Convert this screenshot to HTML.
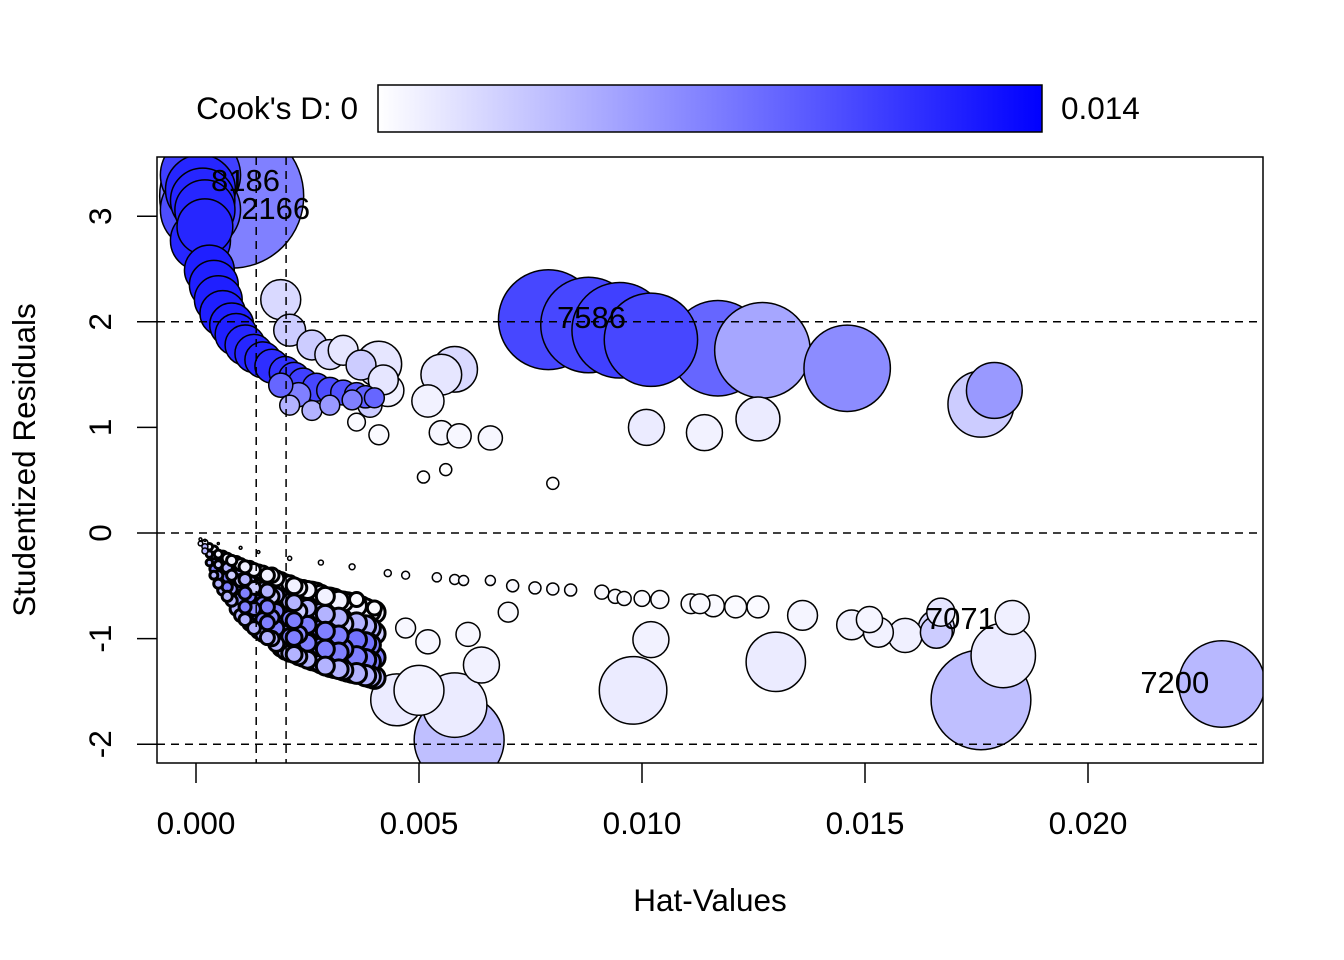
<!DOCTYPE html>
<html><head><meta charset="utf-8">
<style>
html,body{margin:0;padding:0;background:#fff;}
svg{display:block;font-family:"Liberation Sans",Arial,sans-serif;}
</style></head>
<body>
<svg id="chart" width="1344" height="960" viewBox="0 0 1344 960">
<defs>
<linearGradient id="cg" x1="0" x2="1" y1="0" y2="0"><stop offset="0" stop-color="#ffffff"/><stop offset="1" stop-color="#0000ff"/></linearGradient>
<clipPath id="pc"><rect x="157" y="157" width="1106" height="606"/></clipPath>
</defs>
<g>
<text x="358" y="119" font-size="31.5" text-anchor="end">Cook's D: 0</text>
<rect x="378" y="85" width="664" height="47" fill="url(#cg)" stroke="#000" stroke-width="1.5"/>
<text x="1061" y="119" font-size="31.5">0.014</text>
</g>
<g id="marks" clip-path="url(#pc)"></g>
<g id="refs" clip-path="url(#pc)"></g>
<g id="labels"></g>
<rect x="157" y="157" width="1106" height="606" fill="none" stroke="#000" stroke-width="1.5"/>
<g id="axes"></g>
<text x="710" y="911" font-size="31.5" text-anchor="middle">Hat-Values</text>
<text x="0" y="0" font-size="31.5" text-anchor="middle" transform="translate(35,460) rotate(-90)">Studentized Residuals</text>
</svg>
<script>
// [hat, rstudent, cookFraction(of 0.014), sizeFraction]
const upperObs = [
[0.0008,3.19,0.5,1.0],[0.0001,3.39,0.75,0.31],[0.0001,3.06,0.7,0.31],
[0.0001,3.25,0.85,0.236],[0.0002,3.06,0.85,0.174],[0.0001,2.77,0.85,0.174],[0.0003,2.49,0.88,0.12],
[0.0005,2.21,0.88,0.11],[0.0008,1.97,0.88,0.093],[0.0011,1.78,0.85,0.077],[0.0015,1.64,0.85,0.0625],
[0.0020,1.52,0.8,0.049],[0.0024,1.42,0.75,0.043],[0.0030,1.35,0.7,0.033],[0.0036,1.31,0.65,0.028],[0.0040,1.28,0.6,0.019],
[0.00015,3.15,0.85,0.2],[0.0002,2.9,0.85,0.15],[0.0004,2.35,0.88,0.115],[0.0006,2.08,0.88,0.1],[0.0009,1.88,0.88,0.085],
[0.0013,1.70,0.85,0.07],[0.0017,1.58,0.82,0.055],[0.0022,1.47,0.78,0.046],[0.0027,1.38,0.72,0.038],[0.0033,1.33,0.68,0.03],[0.0038,1.29,0.62,0.024],
[0.0019,2.21,0.15,0.077],[0.0021,1.92,0.2,0.049],[0.0026,1.78,0.2,0.043],[0.0030,1.69,0.15,0.043],[0.0033,1.73,0.1,0.043],
[0.0037,1.59,0.2,0.043],[0.0042,1.45,0.1,0.043],
[0.0021,1.21,0.3,0.019],[0.0026,1.16,0.3,0.019],[0.0030,1.21,0.4,0.019],[0.0035,1.26,0.5,0.019],[0.0039,1.21,0.2,0.028],
[0.0023,1.31,0.5,0.028],[0.0019,1.40,0.6,0.028],
[0.0041,1.6,0.1,0.1],[0.0043,1.35,0.05,0.05],[0.0052,1.25,0.05,0.05],[0.0055,0.95,0.03,0.028],[0.0059,0.92,0.03,0.028],
[0.0066,0.90,0.03,0.028],[0.0041,0.93,0.02,0.019],[0.0058,1.55,0.15,0.1],[0.0055,1.5,0.1,0.08],[0.0036,1.05,0.02,0.015],
[0.0051,0.53,0.0,0.007],[0.0056,0.60,0.0,0.007],[0.0080,0.47,0.0,0.007]
];
const rightObs = [
[0.0079,2.02,0.72,0.48],[0.0088,1.97,0.72,0.44],[0.0095,1.92,0.75,0.44],[0.0102,1.83,0.72,0.42],
[0.0117,1.75,0.6,0.44],[0.0127,1.73,0.35,0.44],[0.0146,1.56,0.45,0.36],[0.0179,1.35,0.4,0.15],
[0.0176,1.22,0.2,0.21],[0.0101,1.0,0.08,0.0625],[0.0114,0.95,0.05,0.0625],[0.0126,1.08,0.08,0.093]
];
const ringObs = [
[0.0002,-0.07,0.02,0.0002],[0.0005,-0.10,0.02,0.0002],[0.0010,-0.14,0.02,0.0004],[0.0014,-0.18,0.02,0.0004],
[0.0021,-0.24,0.02,0.0008],[0.0028,-0.28,0.02,0.0012],[0.0035,-0.32,0.02,0.0017],[0.0043,-0.38,0.02,0.0024],
[0.0047,-0.40,0.02,0.003],[0.0054,-0.42,0.02,0.004],[0.0058,-0.44,0.02,0.0048],[0.0060,-0.45,0.02,0.0048],
[0.0066,-0.45,0.02,0.0048],[0.0071,-0.50,0.02,0.007],[0.0076,-0.52,0.02,0.007],[0.0080,-0.53,0.02,0.007],
[0.0084,-0.54,0.02,0.007],[0.0091,-0.56,0.02,0.0095],[0.0094,-0.60,0.02,0.0095],[0.0096,-0.62,0.02,0.0095],
[0.0100,-0.62,0.02,0.012],[0.0104,-0.63,0.02,0.0156],[0.0111,-0.67,0.02,0.019],[0.0113,-0.67,0.02,0.019],
[0.0116,-0.69,0.02,0.023],[0.0121,-0.70,0.02,0.023],[0.0126,-0.70,0.02,0.023]
];
const lowerObs = [
[0.0136,-0.78,0.04,0.043],[0.0147,-0.87,0.05,0.043],[0.0151,-0.82,0.04,0.033],[0.0153,-0.94,0.05,0.043],
[0.0159,-0.97,0.06,0.056],[0.0166,-0.90,0.15,0.0625],[0.0167,-0.75,0.1,0.038],[0.0166,-0.94,0.2,0.049],
[0.0183,-0.80,0.06,0.056],[0.0181,-1.16,0.08,0.2],[0.0176,-1.58,0.25,0.48],[0.0230,-1.43,0.28,0.36],
[0.0130,-1.22,0.08,0.17],[0.0098,-1.49,0.08,0.22],[0.0102,-1.01,0.05,0.0625],[0.0070,-0.75,0.02,0.019],
[0.0059,-1.96,0.25,0.39],[0.0058,-1.63,0.08,0.2],[0.0045,-1.58,0.08,0.13],[0.0050,-1.49,0.05,0.12],
[0.0064,-1.25,0.05,0.0625],[0.0061,-0.96,0.03,0.028],[0.0052,-1.03,0.03,0.028],[0.0047,-0.90,0.03,0.019],
[0.0040,-0.71,0.02,0.0095],[0.0036,-0.63,0.02,0.0095]
];
const bandObs = [
[0.0001,-0.06,0.02,0.0004],[0.0001,-0.10,0.1,0.001],
[0.0002,-0.09,0.05,0.0017],[0.0002,-0.13,0.3,0.0017],[0.0002,-0.17,0.3,0.0017],
[0.0003,-0.13,0.05,0.002],[0.0003,-0.20,0.2,0.002],[0.0003,-0.28,0.3,0.002],
[0.0004,-0.16,0.05,0.003],[0.0004,-0.22,0.3,0.003],[0.0004,-0.28,0.5,0.003],[0.0004,-0.34,0.5,0.003],[0.0004,-0.40,0.3,0.003],
[0.0005,-0.20,0.05,0.003],[0.0005,-0.30,0.2,0.003],[0.0005,-0.40,0.4,0.004],[0.0005,-0.48,0.3,0.004],
[0.0006,-0.22,0.05,0.005],[0.0006,-0.30,0.3,0.005],[0.0006,-0.38,0.5,0.005],[0.0006,-0.46,0.5,0.005],[0.0006,-0.54,0.3,0.005],
[0.0007,-0.24,0.05,0.005],[0.0007,-0.33,0.3,0.005],[0.0007,-0.42,0.5,0.005],[0.0007,-0.51,0.5,0.005],[0.0007,-0.60,0.3,0.005],
[0.0008,-0.26,0.05,0.005],[0.0008,-0.40,0.2,0.005],[0.0008,-0.53,0.4,0.006],[0.0008,-0.64,0.3,0.006],
[0.0009,-0.28,0.05,0.007],[0.0009,-0.39,0.3,0.007],[0.0009,-0.50,0.5,0.007],[0.0009,-0.61,0.5,0.007],[0.0009,-0.72,0.3,0.007],
[0.0010,-0.30,0.05,0.007],[0.0010,-0.45,0.2,0.007],[0.0010,-0.62,0.45,0.007],[0.0010,-0.78,0.3,0.007],
[0.0011,-0.32,0.05,0.007],[0.0011,-0.44,0.3,0.007],[0.0011,-0.57,0.5,0.007],[0.0011,-0.70,0.5,0.007],[0.0011,-0.82,0.3,0.007],
[0.0012,-0.33,0.05,0.008],[0.0012,-0.46,0.3,0.008],[0.0012,-0.60,0.5,0.008],[0.0012,-0.73,0.5,0.008],[0.0012,-0.86,0.3,0.008],
[0.0013,-0.35,0.05,0.008],[0.0013,-0.52,0.2,0.008],[0.0013,-0.72,0.45,0.008],[0.0013,-0.90,0.3,0.008],
[0.0014,-0.37,0.05,0.0095],[0.0014,-0.51,0.3,0.0095],[0.0014,-0.65,0.5,0.0095],[0.0014,-0.79,0.5,0.0095],[0.0014,-0.93,0.3,0.0095],
[0.0015,-0.38,0.05,0.0095],[0.0015,-0.53,0.3,0.0095],[0.0015,-0.67,0.5,0.0095],[0.0015,-0.82,0.5,0.0095],[0.0015,-0.96,0.3,0.0095],
[0.0016,-0.40,0.05,0.0095],[0.0016,-0.55,0.3,0.0095],[0.0016,-0.70,0.5,0.0095],[0.0016,-0.85,0.5,0.0095],[0.0016,-0.99,0.3,0.0095],
[0.0017,-0.40,0.05,0.01],[0.0017,-0.60,0.2,0.01],[0.0017,-0.80,0.45,0.01],[0.0017,-1.00,0.3,0.01],
[0.0018,-0.43,0.05,0.011],[0.0018,-0.59,0.3,0.011],[0.0018,-0.74,0.5,0.011],[0.0018,-0.90,0.5,0.011],[0.0018,-1.05,0.3,0.011],
[0.0019,-0.45,0.05,0.012],[0.0019,-0.61,0.3,0.012],[0.0019,-0.77,0.5,0.012],[0.0019,-0.93,0.5,0.012],[0.0019,-1.09,0.3,0.012],
[0.0020,-0.47,0.05,0.012],[0.0020,-0.68,0.2,0.012],[0.0020,-0.90,0.45,0.012],[0.0020,-1.12,0.3,0.012],
[0.0021,-0.48,0.05,0.012],[0.0021,-0.65,0.3,0.012],[0.0021,-0.81,0.5,0.012],[0.0021,-0.98,0.5,0.012],[0.0021,-1.14,0.3,0.012],
[0.0022,-0.50,0.05,0.012],[0.0022,-0.66,0.3,0.012],[0.0022,-0.83,0.5,0.012],[0.0022,-0.99,0.5,0.012],[0.0022,-1.15,0.3,0.012],
[0.0023,-0.52,0.05,0.013],[0.0023,-0.74,0.2,0.013],[0.0023,-0.96,0.45,0.013],[0.0023,-1.17,0.3,0.013],
[0.0024,-0.53,0.05,0.014],[0.0024,-0.69,0.3,0.014],[0.0024,-0.86,0.5,0.014],[0.0024,-1.02,0.5,0.014],[0.0024,-1.18,0.3,0.014],
[0.0025,-0.54,0.05,0.014],[0.0025,-0.71,0.3,0.014],[0.0025,-0.87,0.5,0.014],[0.0025,-1.04,0.5,0.014],[0.0025,-1.20,0.3,0.014],
[0.0026,-0.55,0.05,0.0156],[0.0026,-0.72,0.3,0.0156],[0.0026,-0.88,0.5,0.0156],[0.0026,-1.05,0.5,0.0156],[0.0026,-1.21,0.3,0.0156],
[0.0027,-0.56,0.05,0.0156],[0.0027,-0.78,0.2,0.0156],[0.0027,-1.00,0.45,0.0156],[0.0027,-1.22,0.3,0.0156],
[0.0028,-0.58,0.05,0.0156],[0.0028,-0.75,0.3,0.0156],[0.0028,-0.91,0.5,0.0156],[0.0028,-1.08,0.5,0.0156],[0.0028,-1.24,0.3,0.0156],
[0.0029,-0.60,0.05,0.0156],[0.0029,-0.77,0.3,0.0156],[0.0029,-0.93,0.5,0.0156],[0.0029,-1.10,0.5,0.0156],[0.0029,-1.26,0.3,0.0156],
[0.0030,-0.61,0.05,0.017],[0.0030,-0.82,0.2,0.017],[0.0030,-1.05,0.5,0.017],[0.0030,-1.27,0.3,0.017],
[0.0031,-0.62,0.05,0.017],[0.0031,-0.79,0.3,0.017],[0.0031,-0.95,0.5,0.017],[0.0031,-1.12,0.5,0.017],[0.0031,-1.28,0.3,0.017],
[0.0032,-0.64,0.05,0.017],[0.0032,-0.80,0.3,0.017],[0.0032,-0.97,0.5,0.017],[0.0032,-1.13,0.5,0.017],[0.0032,-1.29,0.3,0.017],
[0.0033,-0.65,0.05,0.018],[0.0033,-0.86,0.2,0.018],[0.0033,-1.10,0.5,0.018],[0.0033,-1.30,0.3,0.018],
[0.0034,-0.66,0.05,0.019],[0.0034,-0.82,0.3,0.019],[0.0034,-0.99,0.5,0.019],[0.0034,-1.15,0.5,0.019],[0.0034,-1.31,0.3,0.019],
[0.0035,-0.68,0.05,0.019],[0.0035,-0.84,0.3,0.019],[0.0035,-1.00,0.55,0.019],[0.0035,-1.16,0.5,0.019],[0.0035,-1.32,0.3,0.019],
[0.0036,-0.69,0.05,0.019],[0.0036,-0.85,0.3,0.019],[0.0036,-1.01,0.55,0.019],[0.0036,-1.17,0.5,0.019],[0.0036,-1.33,0.3,0.019],
[0.0037,-0.70,0.05,0.02],[0.0037,-0.90,0.2,0.02],[0.0037,-1.13,0.55,0.02],[0.0037,-1.33,0.3,0.02],
[0.0038,-0.72,0.05,0.02],[0.0038,-0.88,0.3,0.02],[0.0038,-1.04,0.55,0.02],[0.0038,-1.20,0.5,0.02],[0.0038,-1.35,0.3,0.02],
[0.0039,-0.74,0.05,0.021],[0.0039,-0.90,0.3,0.021],[0.0039,-1.06,0.5,0.021],[0.0039,-1.22,0.5,0.021],[0.0039,-1.36,0.3,0.021],
[0.0040,-0.75,0.05,0.022],[0.0040,-0.95,0.2,0.022],[0.0040,-1.18,0.5,0.022],[0.0040,-1.37,0.3,0.022]
];
const xTicks = [0, 0.005, 0.010, 0.015, 0.020];
const xTickLabels = ["0.000","0.005","0.010","0.015","0.020"];
const yTicks = [-2,-1,0,1,2,3];
const yTickLabels = ["-2","-1","0","1","2","3"];
const hRefs = [-2, 0, 2];
const vRefs = [0.00135, 0.00202];
const pointLabels = [
 {t:"8186",h:0.0001,r:3.39},{t:"2166",h:0.0008,r:3.19},{t:"7586",h:0.0088,r:1.97},
 {t:"7071",h:0.0166,r:-0.90},{t:"7200",h:0.0230,r:-1.43}
];
const labelOffsets=[[45,16],[44,23],[3,3],[24,1],[-47,9]];

const NS="http://www.w3.org/2000/svg";
function xs(h){return 196 + h*44600;}
function ys(r){return 533 - r*105.6;}
const RMAX=72;
function col(c){const v=Math.round(255*(1-c));return `rgb(${v},${v},255)`;}

const all=[].concat(upperObs,rightObs,ringObs,lowerObs,bandObs);
all.sort((a,b)=>b[3]-a[3]);
const marks=document.getElementById('marks');
all.forEach(p=>{
  const c=document.createElementNS(NS,'circle');
  const rr=Math.max(1,RMAX*Math.sqrt(p[3]));
  c.setAttribute('cx',xs(p[0]));c.setAttribute('cy',ys(p[1]));
  c.setAttribute('r',rr);
  c.setAttribute('fill',col(p[2]));c.setAttribute('stroke','#000');
  c.setAttribute('stroke-width', (rr<11 && p[1]<0 && p[0]<0.0042 && rr>3) ? '3' : '1.5');
  
  
  marks.appendChild(c);
});
const refs=document.getElementById('refs');
hRefs.forEach(v=>{
  const l=document.createElementNS(NS,'line');
  l.setAttribute('x1',157);l.setAttribute('x2',1263);l.setAttribute('y1',ys(v));l.setAttribute('y2',ys(v));
  l.setAttribute('stroke','#000');l.setAttribute('stroke-width','1.5');l.setAttribute('stroke-dasharray','8 6');
  
  
  refs.appendChild(l);
});
vRefs.forEach(v=>{
  const l=document.createElementNS(NS,'line');
  l.setAttribute('y1',157);l.setAttribute('y2',763);l.setAttribute('x1',xs(v));l.setAttribute('x2',xs(v));
  l.setAttribute('stroke','#000');l.setAttribute('stroke-width','1.5');l.setAttribute('stroke-dasharray','8 6');
  
  
  refs.appendChild(l);
});
const lab=document.getElementById('labels');
pointLabels.forEach((p,i)=>{
  const t=document.createElementNS(NS,'text');
  t.setAttribute('x',xs(p.h)+labelOffsets[i][0]);t.setAttribute('y',ys(p.r)+labelOffsets[i][1]);
  t.setAttribute('font-size','31');t.setAttribute('text-anchor','middle');
  t.textContent=p.t;
  
  
  lab.appendChild(t);
});
const axes=document.getElementById('axes');
xTicks.forEach((v,i)=>{
  const l=document.createElementNS(NS,'line');
  l.setAttribute('x1',xs(v));l.setAttribute('x2',xs(v));l.setAttribute('y1',763);l.setAttribute('y2',783);
  l.setAttribute('stroke','#000');l.setAttribute('stroke-width','1.5');
  
  
  axes.appendChild(l);
  const t=document.createElementNS(NS,'text');
  t.setAttribute('x',xs(v));t.setAttribute('y',834);t.setAttribute('font-size','31.5');t.setAttribute('text-anchor','middle');
  t.textContent=xTickLabels[i];
  
  
  axes.appendChild(t);
});
yTicks.forEach((v,i)=>{
  const l=document.createElementNS(NS,'line');
  l.setAttribute('x1',137);l.setAttribute('x2',157);l.setAttribute('y1',ys(v));l.setAttribute('y2',ys(v));
  l.setAttribute('stroke','#000');l.setAttribute('stroke-width','1.5');
  
  
  axes.appendChild(l);
  const t=document.createElementNS(NS,'text');
  t.setAttribute('font-size','31.5');t.setAttribute('text-anchor','middle');
  t.setAttribute('transform',`translate(111,${ys(v)}) rotate(-90)`);
  t.textContent=yTickLabels[i];
  
  
  axes.appendChild(t);
});
</script>
</body></html>
